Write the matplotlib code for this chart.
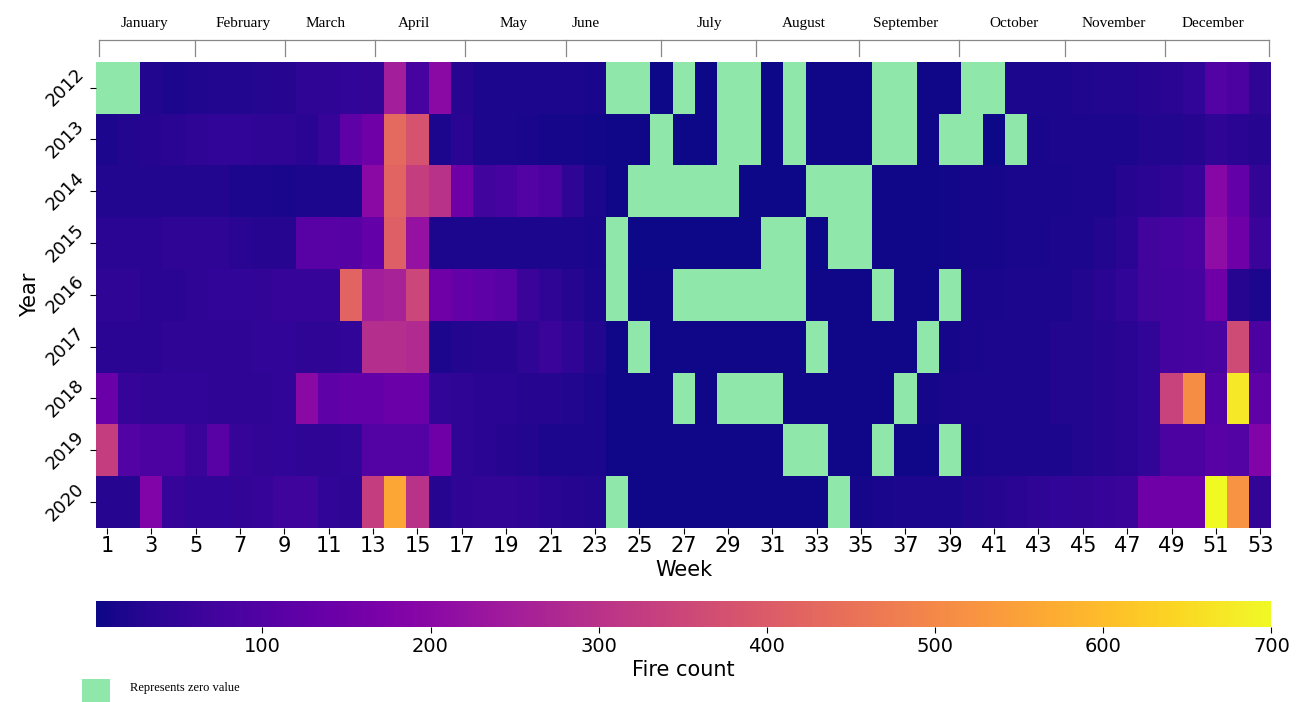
import matplotlib.pyplot as plt
import matplotlib.patches as mpatches
import numpy as np

years = [2012, 2013, 2014, 2015, 2016, 2017, 2018, 2019, 2020]
weeks = list(range(1, 54))
months = ["January", "February", "March", "April", "May", "June",
          "July", "August", "September", "October", "November", "December"]

# weekly fire counts, one list per year (0 = no fire that week)
fc_2012 = [0, 0, 25, 20, 22, 25, 25, 28, 30, 40, 40, 45, 50, 250, 80, 200,
           30, 20, 15, 15, 15, 15, 12, 0, 0, 3, 0, 3, 0, 0, 3, 0, 5, 5, 4,
           0, 0, 4, 4, 0, 0, 15, 18, 20, 22, 25, 25, 30, 35, 45, 100, 90, 40]
fc_2013 = [20, 25, 30, 35, 40, 45, 45, 40, 40, 35, 55, 120, 150, 430, 380, 20,
           35, 20, 15, 12, 10, 10, 8, 4, 4, 0, 3, 3, 0, 0, 3, 0, 4, 4, 4,
           0, 0, 4, 0, 0, 3, 0, 12, 15, 15, 20, 20, 25, 25, 30, 40, 35, 30]
fc_2014 = [25, 25, 25, 25, 25, 25, 20, 15, 12, 15, 15, 15, 200, 420, 330, 300,
           150, 70, 80, 100, 90, 40, 20, 5, 0, 0, 0, 0, 0, 3, 3, 3, 0, 0, 0,
           5, 5, 5, 8, 10, 10, 12, 12, 12, 15, 20, 30, 35, 40, 55, 190, 130, 50]
fc_2015 = [35, 35, 35, 40, 40, 40, 35, 30, 30, 110, 110, 105, 130, 410, 220, 15,
           15, 20, 20, 20, 15, 15, 12, 0, 3, 3, 3, 3, 3, 3, 0, 0, 3, 0, 0,
           5, 5, 5, 8, 10, 10, 12, 12, 15, 20, 25, 35, 70, 80, 90, 210, 150, 60]
fc_2016 = [40, 40, 35, 35, 40, 45, 45, 50, 55, 55, 55, 420, 250, 260, 350, 150,
           130, 120, 110, 60, 40, 30, 20, 0, 4, 4, 0, 0, 0, 0, 0, 0, 4, 4, 4,
           0, 4, 4, 0, 12, 12, 15, 15, 20, 25, 35, 45, 70, 75, 80, 150, 30, 20]
fc_2017 = [35, 35, 35, 40, 40, 40, 40, 45, 45, 40, 40, 45, 290, 290, 280, 20,
           25, 30, 30, 40, 60, 40, 25, 5, 0, 4, 4, 4, 4, 4, 4, 4, 0, 4, 4,
           4, 4, 0, 10, 12, 15, 15, 20, 25, 25, 30, 35, 45, 75, 80, 85, 360, 90]
fc_2018 = [140, 55, 50, 45, 45, 40, 40, 40, 45, 200, 120, 130, 130, 140, 140, 45,
           40, 35, 35, 30, 30, 25, 20, 5, 5, 5, 0, 4, 0, 0, 0, 4, 4, 4, 4,
           4, 0, 10, 12, 15, 15, 20, 20, 25, 25, 30, 35, 45, 340, 510, 100, 670, 120]
fc_2019 = [330, 100, 90, 90, 60, 110, 55, 50, 45, 40, 40, 45, 100, 100, 100, 150,
           40, 35, 30, 25, 20, 20, 15, 4, 4, 4, 4, 4, 4, 4, 4, 0, 0, 4, 4,
           0, 4, 4, 0, 12, 15, 15, 15, 20, 25, 30, 35, 45, 90, 90, 110, 100, 180]
fc_2020 = [30, 30, 180, 55, 45, 45, 50, 55, 65, 65, 45, 40, 330, 560, 300, 30,
           40, 50, 50, 40, 35, 30, 25, 0, 5, 5, 5, 5, 5, 5, 5, 5, 5, 0, 10,
           12, 15, 18, 20, 25, 30, 35, 40, 45, 50, 55, 60, 150, 150, 150, 700, 520, 50]

counts = np.array([fc_2012, fc_2013, fc_2014, fc_2015, fc_2016,
                   fc_2017, fc_2018, fc_2019, fc_2020], dtype=float)
zero_green = "#8fe8a9"

# month bracket layout (week coordinates)
month_edges = [0.66, 4.96, 9.02, 13.08, 17.14, 21.69, 26.0, 30.26, 34.9,
               39.4, 44.2, 48.7, 53.4]
month_centers = [2.71, 7.13, 10.87, 14.84, 19.35, 22.6, 28.14, 32.4, 37.0,
                 41.9, 46.4, 50.86]

fig = plt.figure(figsize=(12.96, 7.02), dpi=100)
ax = fig.add_axes([0.074, 0.248, 0.907, 0.664])

cmap = plt.get_cmap("plasma").copy()
cmap.set_bad(zero_green)
masked = np.ma.masked_where(counts == 0, counts)
x_edges = np.arange(len(weeks) + 1) + 0.5
y_edges = np.arange(len(years) + 1) - 0.5
mesh = ax.pcolormesh(x_edges, y_edges, masked, cmap=cmap, vmin=1, vmax=700)
ax.set_xlim(0.5, 53.5)
ax.set_ylim(len(years) - 0.5, -0.5)

for s in ax.spines.values():
    s.set_visible(False)
ax.set_xticks(weeks[::2])
ax.set_xticklabels([str(w) for w in weeks[::2]], fontsize=15)
ax.set_yticks(range(len(years)))
ax.set_yticklabels([str(y) for y in years], rotation=45, fontsize=13,
                   va="center", ha="right")
ax.tick_params(axis="both", length=4, pad=2)
ax.set_xlabel("Week", fontsize=15, labelpad=3)
ax.set_ylabel("Year", fontsize=15, labelpad=2)

# month brackets above the heatmap
trans = ax.get_xaxis_transform()
ax.plot([month_edges[0], month_edges[-1]], [1.047, 1.047], color="#888888",
        lw=0.9, transform=trans, clip_on=False)
for e in month_edges:
    ax.plot([e, e], [1.047, 1.012], color="#888888", lw=0.9,
            transform=trans, clip_on=False)
for name, c in zip(months, month_centers):
    ax.text(c, 1.083, name, transform=trans, ha="center", va="center",
            fontsize=11, family="Liberation Serif")

# colorbar
cax = fig.add_axes([0.074, 0.107, 0.907, 0.037])
cb = fig.colorbar(mesh, cax=cax, orientation="horizontal")
cb.set_ticks([100, 200, 300, 400, 500, 600, 700])
cb.ax.tick_params(labelsize=14, length=4)
cb.outline.set_visible(False)
cb.set_label("Fire count", fontsize=15, labelpad=3)

# zero-value key
fig.patches.append(mpatches.Rectangle((0.063, -0.01), 0.022, 0.043,
                                      transform=fig.transFigure,
                                      facecolor=zero_green, edgecolor="none"))
fig.text(0.1, 0.02, "Represents zero value", fontsize=9,
         family="Liberation Serif", va="center")

fig.savefig("out.png", dpi=100)
